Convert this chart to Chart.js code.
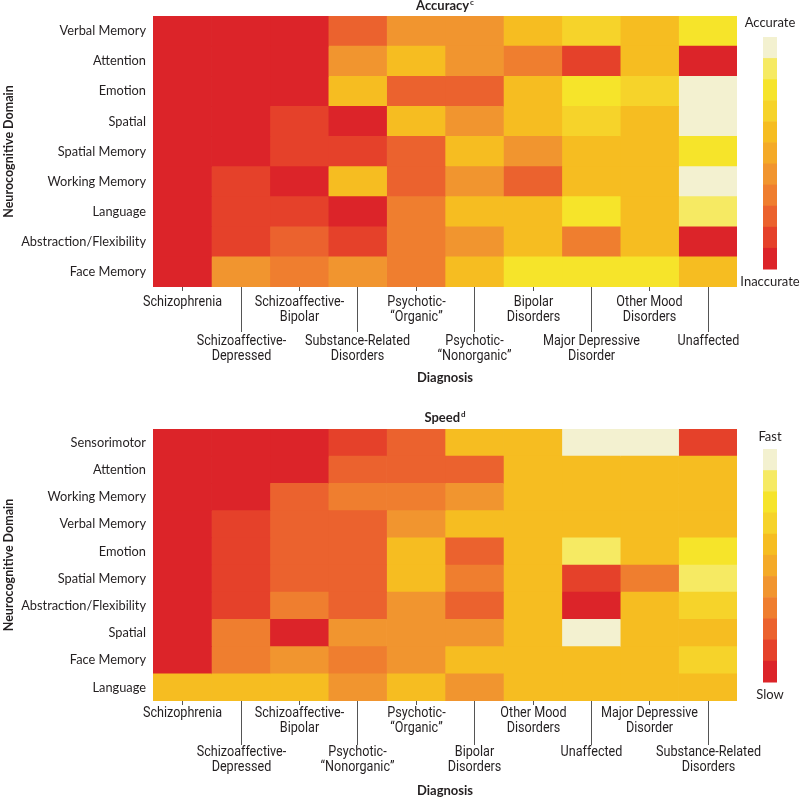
<!DOCTYPE html>
<html>
<head>
<meta charset="utf-8">
<script src="https://cdn.jsdelivr.net/npm/chart.js@4.4.1/dist/chart.umd.min.js"></script>
<style>
  html, body { margin: 0; padding: 0; background: #fff; }
  .panel { position: absolute; left: 0; width: 800px; }
</style>
</head>
<body>
<div class="panel" style="top:0;height:400px"><canvas id="accuracyChart"></canvas></div>
<div class="panel" style="top:400px;height:398px"><canvas id="speedChart"></canvas></div>
<script>
// colour steps, 0 = worst (red) ... 10 = best (cream)
const levelColors = ["#DC2429", "#E5412A", "#EB622E", "#EF7E2F", "#F1952F", "#F4AA28",
  "#F6BD21", "#F6D32A", "#F6E42A", "#F6EA63", "#F3F1D0"];

const accuracyDomains = ["Verbal Memory", "Attention", "Emotion", "Spatial", "Spatial Memory",
  "Working Memory", "Language", "Abstraction/Flexibility", "Face Memory"];
const accuracyDiagnoses = [
  ["Schizophrenia"], ["Schizoaffective-", "Depressed"], ["Schizoaffective-", "Bipolar"],
  ["Substance-Related", "Disorders"], ["Psychotic-", "\u201cOrganic\u201d"], ["Psychotic-", "\u201cNonorganic\u201d"],
  ["Bipolar", "Disorders"], ["Major Depressive", "Disorder"], ["Other Mood", "Disorders"], ["Unaffected"]];
// one row per domain, one value per diagnosis
const accuracyLevels = [
  [0, 0, 0, 2, 4, 4, 6, 7, 6, 8],
  [0, 0, 0, 4, 6, 4, 3, 1, 6, 0],
  [0, 0, 0, 6, 2, 2, 6, 8, 7, 10],
  [0, 0, 1, 0, 6, 4, 6, 7, 6, 10],
  [0, 0, 1, 1, 2, 6, 4, 6, 6, 8],
  [0, 1, 0, 6, 2, 4, 2, 6, 6, 10],
  [0, 1, 1, 0, 3, 6, 6, 8, 6, 9],
  [0, 1, 2, 1, 3, 4, 6, 3, 6, 0],
  [0, 4, 3, 4, 3, 6, 8, 8, 8, 6]];

const speedDomains = ["Sensorimotor", "Attention", "Working Memory", "Verbal Memory", "Emotion",
  "Spatial Memory", "Abstraction/Flexibility", "Spatial", "Face Memory", "Language"];
const speedDiagnoses = [
  ["Schizophrenia"], ["Schizoaffective-", "Depressed"], ["Schizoaffective-", "Bipolar"],
  ["Psychotic-", "\u201cNonorganic\u201d"], ["Psychotic-", "\u201cOrganic\u201d"], ["Bipolar", "Disorders"],
  ["Other Mood", "Disorders"], ["Unaffected"], ["Major Depressive", "Disorder"], ["Substance-Related", "Disorders"]];
const speedLevels = [
  [0, 0, 0, 1, 2, 6, 6, 10, 10, 1],
  [0, 0, 0, 2, 2, 2, 6, 6, 6, 6],
  [0, 0, 2, 3, 3, 4, 6, 6, 6, 6],
  [0, 1, 2, 2, 4, 6, 6, 6, 6, 6],
  [0, 1, 2, 2, 6, 2, 6, 9, 6, 8],
  [0, 1, 2, 2, 6, 3, 6, 1, 3, 9],
  [0, 1, 3, 2, 4, 2, 6, 0, 6, 7],
  [0, 3, 0, 4, 4, 4, 6, 10, 6, 6],
  [0, 3, 4, 3, 4, 6, 6, 6, 6, 7],
  [6, 6, 6, 4, 6, 4, 6, 6, 6, 6]];

const textColor = "#231f20";
const labelFont = "Lato, 'Open Sans', sans-serif";
const narrowFont = "Roboto, 'Liberation Sans', sans-serif";

// draws the title, staggered diagnosis labels and the colour key
const heatmapDecor = {
  id: "heatmapDecor",
  afterDraw(chart, args, o) {
    const ctx = chart.ctx;
    const area = chart.chartArea;
    const x = chart.scales.x;
    const mid = (area.left + area.right) / 2;
    ctx.save();
    ctx.fillStyle = textColor;
    ctx.textBaseline = "middle";

    // title with superscript
    ctx.font = "bold 13px " + labelFont;
    const w = ctx.measureText(o.title).width;
    ctx.font = "bold 8px " + labelFont;
    const ws = ctx.measureText(o.sup).width;
    const tx = mid - (w + ws + 1) / 2;
    ctx.textAlign = "left";
    ctx.font = "bold 13px " + labelFont;
    ctx.fillText(o.title, tx, o.titleY);
    ctx.font = "bold 8px " + labelFont;
    ctx.fillText(o.sup, tx + w + 1, o.titleY - 4);

    // diagnosis ticks and labels (condensed look)
    ctx.textAlign = "center";
    ctx.font = "14px " + narrowFont;
    ctx.strokeStyle = "#555";
    ctx.lineWidth = 1;
    const squeeze = 0.9;
    o.labels.forEach((lines, i) => {
      const px = Math.round(x.getPixelForValue(i + 0.5)) + 0.5;
      const low = i % 2 === 1;
      ctx.beginPath();
      ctx.moveTo(px, area.bottom);
      ctx.lineTo(px, area.bottom + (low ? o.longTick : 4));
      ctx.stroke();
      const y0 = area.bottom + (low ? o.second : o.first);
      lines.forEach((t, k) => {
        ctx.save();
        ctx.translate(px, y0 + k * 15);
        ctx.scale(squeeze, 1);
        ctx.fillText(t, 0, 0);
        ctx.restore();
      });
    });
    ctx.font = "bold 13px " + labelFont;
    ctx.fillText("Diagnosis", mid, area.bottom + o.axisTitle);

    // colour key
    const seg = (o.keyBottom - o.keyTop) / levelColors.length;
    levelColors.slice().reverse().forEach((c, i) => {
      ctx.fillStyle = c;
      ctx.fillRect(763, o.keyTop + i * seg, 14, seg + 0.5);
    });
    ctx.fillStyle = textColor;
    ctx.font = "13px " + labelFont;
    ctx.fillText(o.high, 770, o.highY);
    ctx.fillText(o.low, 770, o.lowY);
    ctx.restore();
  }
};

function makeHeatmap(id, domains, levels, padding, decor) {
  const cols = levels[0].length;
  const datasets = [];
  for (let c = 0; c < cols; c++) {
    datasets.push({
      data: domains.map(() => [c, c + 1]),
      backgroundColor: levels.map(row => levelColors[row[c]]),
      borderWidth: 0,
      barPercentage: 1,
      categoryPercentage: 1,
      grouped: false
    });
  }
  return new Chart(document.getElementById(id), {
    type: "bar",
    data: { labels: domains, datasets },
    options: {
      indexAxis: "y",
      responsive: true,
      maintainAspectRatio: false,
      animation: false,
      layout: { padding },
      plugins: {
        legend: { display: false },
        tooltip: { enabled: false },
        heatmapDecor: decor
      },
      scales: {
        x: { type: "linear", min: 0, max: cols, display: false },
        y: {
          type: "category",
          grid: { display: false, drawTicks: false },
          border: { display: false },
          ticks: { color: textColor, padding: 7, font: { family: labelFont, size: 12.8 } },
          title: {
            display: true,
            text: "Neurocognitive Domain",
            color: textColor,
            padding: { top: 1, bottom: 0 },
            font: { family: labelFont, size: 12.5, weight: "bold" }
          },
          afterFit(scale) { scale.width = 153; }
        }
      }
    },
    plugins: [heatmapDecor]
  });
}

makeHeatmap("accuracyChart", accuracyDomains, accuracyLevels,
  { left: 0, right: 63, top: 16, bottom: 113 },
  { title: "Accuracy", sup: "c", titleY: 6, labels: accuracyDiagnoses,
    first: 15, second: 54, longTick: 45, axisTitle: 91,
    keyTop: 37, keyBottom: 269, high: "Accurate", highY: 23, low: "Inaccurate", lowY: 282 });

makeHeatmap("speedChart", speedDomains, speedLevels,
  { left: 0, right: 63, top: 29, bottom: 97 },
  { title: "Speed", sup: "d", titleY: 18, labels: speedDiagnoses,
    first: 12, second: 51, longTick: 44, axisTitle: 90,
    keyTop: 49, keyBottom: 282, high: "Fast", highY: 37, low: "Slow", lowY: 295 });
</script>
</body>
</html>
